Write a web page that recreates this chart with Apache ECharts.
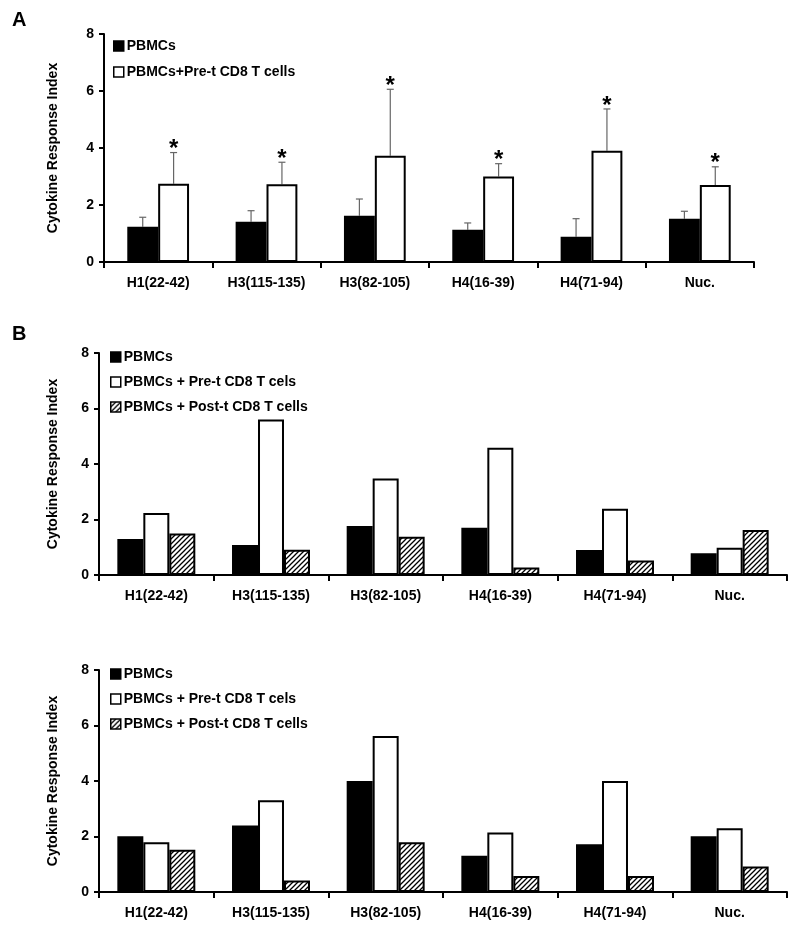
<!DOCTYPE html>
<html><head><meta charset="utf-8">
<script src="https://cdn.jsdelivr.net/npm/echarts@6/dist/echarts.min.js"></script>
<style>html,body{margin:0;padding:0;background:#fff}#c{width:800px;height:928px}</style>
</head><body><div id="c"></div>
<script>
// ---------- data ----------
const categories = ['H1(22-42)', 'H3(115-135)', 'H3(82-105)', 'H4(16-39)', 'H4(71-94)', 'Nuc.'];
const yTicks = [0, 2, 4, 6, 8];

// Panel A
const A_pbmc      = [1.24, 1.41, 1.62, 1.13, 0.89, 1.52];
const A_pbmc_err  = [0.33, 0.39, 0.59, 0.24, 0.63, 0.26];
const A_pre       = [2.75, 2.73, 3.73, 3.00, 3.90, 2.70];
const A_pre_err   = [1.09, 0.77, 2.33, 0.45, 1.47, 0.64];
const A_pre_star  = [true, true, true, true, true, true];

// Panel B (upper)
const B_pbmc = [1.30, 1.08, 1.77, 1.70, 0.90, 0.78];
const B_pre  = [2.23, 5.60, 3.48, 4.59, 2.39, 0.98];
const B_post = [1.50, 0.91, 1.38, 0.27, 0.52, 1.62];

// Panel B (lower)
const C_pbmc = [2.01, 2.40, 4.00, 1.31, 1.72, 2.01];
const C_pre  = [1.79, 3.31, 5.62, 2.14, 4.00, 2.30];
const C_post = [1.52, 0.41, 1.79, 0.58, 0.58, 0.92];

const nameA1 = 'PBMCs', nameA2 = 'PBMCs+Pre-t CD8 T cells';
const nameB1 = 'PBMCs', nameB2 = 'PBMCs + Pre-t CD8 T cels', nameB3 = 'PBMCs + Post-t CD8 T cells';

// ---------- hatch pattern ----------
function hatch() {
  const s = 5, cv = document.createElement('canvas');
  cv.width = s; cv.height = s;
  const g = cv.getContext('2d');
  g.fillStyle = '#fff'; g.fillRect(0, 0, s, s);
  g.strokeStyle = '#000'; g.lineWidth = 1.3;
  g.beginPath();
  g.moveTo(-1, s + 1); g.lineTo(s + 1, -1);
  g.moveTo(-1, 1); g.lineTo(1, -1);
  g.moveTo(s - 1, s + 1); g.lineTo(s + 1, s - 1);
  g.stroke();
  return { image: cv, repeat: 'repeat' };
}
const hatchFill = hatch();

const FONT = '"Liberation Sans", Arial, Helvetica, sans-serif';
const grids = [
  { left: 104, top: 34, width: 650, height: 228 },
  { left: 99, top: 353, width: 688, height: 222 },
  { left: 99, top: 670, width: 688, height: 222 }
];
const nameGaps = [44, 39, 39];

const xAxes = grids.map((g, i) => ({
  type: 'category', gridIndex: i, data: categories,
  axisLine: { lineStyle: { color: '#000', width: 2 } },
  axisTick: { show: true, length: 6, lineStyle: { color: '#000', width: 2 } },
  axisLabel: { color: '#000', fontWeight: 'bold', fontSize: 14, fontFamily: FONT, margin: 14 }
}));
const yAxes = grids.map((g, i) => ({
  type: 'value', gridIndex: i, min: 0, max: 8, interval: 2,
  name: 'Cytokine Response Index', nameLocation: 'middle', nameGap: nameGaps[i],
  nameTextStyle: { color: '#000', fontWeight: 'bold', fontSize: 14, fontFamily: FONT },
  axisLine: { show: true, lineStyle: { color: '#000', width: 2 } },
  axisTick: { show: true, length: 5, lineStyle: { color: '#000', width: 2 } },
  axisLabel: { color: '#000', fontWeight: 'bold', fontSize: 14, fontFamily: FONT, margin: 10,
    formatter: v => yTicks.includes(v) ? String(v) : '' },
  splitLine: { show: false }
}));

function barSeries(name, data, idx, fill, gap) {
  return {
    type: 'bar', name, data, xAxisIndex: idx, yAxisIndex: idx,
    barGap: 0, barCategoryGap: gap,
    itemStyle: { color: fill, borderColor: '#000', borderWidth: 2 },
    emphasis: { disabled: true }, z: 2
  };
}

// error bars for panel A (2 bars per category, gap 43%)
function errSeries(vals, errs, stars, side) {
  const gap = 0.43;
  return {
    type: 'custom', xAxisIndex: 0, yAxisIndex: 0, z: 1,
    data: vals.map((v, i) => [i, v, errs[i], stars ? (stars[i] ? 1 : 0) : 0]),
    renderItem: function (params, api) {
      const i = api.value(0), v = api.value(1), e = api.value(2), st = api.value(3);
      const band = api.size([1, 0])[0];
      const bw = band * (1 - gap) / 2;
      const c = api.coord([i, v]);
      const x = c[0] + side * bw / 2;
      const top = api.coord([i, v + e])[1];
      const children = [
        { type: 'line', shape: { x1: x, y1: c[1], x2: x, y2: top }, style: { stroke: '#666', lineWidth: 1.2 } },
        { type: 'line', shape: { x1: x - 3.5, y1: top, x2: x + 3.5, y2: top }, style: { stroke: '#666', lineWidth: 1.2 } }
      ];
      if (st) children.push({ type: 'text', x: x, y: top - 3,
        style: { text: '*', fontSize: 24, fontWeight: 'bold', fontFamily: FONT, fill: '#000', align: 'center', verticalAlign: 'middle' } });
      return { type: 'group', children };
    }
  };
}

const series = [
  barSeries(nameA1, A_pbmc, 0, '#000', '43%'),
  barSeries(nameA2, A_pre, 0, '#fff', '43%'),
  errSeries(A_pbmc, A_pbmc_err, null, -1),
  errSeries(A_pre, A_pre_err, A_pre_star, 1),
  barSeries(nameB1, B_pbmc, 1, '#000', '32%'),
  barSeries(nameB2, B_pre, 1, '#fff', '32%'),
  barSeries(nameB3, B_post, 1, hatchFill, '32%'),
  barSeries(nameB1, C_pbmc, 2, '#000', '32%'),
  barSeries(nameB2, C_pre, 2, '#fff', '32%'),
  barSeries(nameB3, C_post, 2, hatchFill, '32%')
];

const legendBase = {
  orient: 'vertical', icon: 'rect', itemWidth: 10, itemHeight: 10,
  selectedMode: false,
  textStyle: { color: '#000', fontWeight: 'bold', fontSize: 14, fontFamily: FONT, padding: [0, 0, 0, -2] },
  itemStyle: { borderColor: '#000', borderWidth: 1.5 }
};

const option = {
  animation: false,
  backgroundColor: '#fff',
  grid: grids,
  xAxis: xAxes,
  yAxis: yAxes,
  legend: [
    Object.assign({}, legendBase, { left: 108, top: 34, itemGap: 12, data: [nameA1, nameA2] }),
    Object.assign({}, legendBase, { left: 105, top: 345, itemGap: 11, data: [nameB1, nameB2, nameB3] }),
    Object.assign({}, legendBase, { left: 105, top: 662, itemGap: 11, data: [nameB1, nameB2, nameB3] })
  ],
  graphic: [
    { type: 'text', left: 12, top: 10, style: { text: 'A', fontSize: 20, fontWeight: 'bold', fontFamily: FONT, fill: '#000' } },
    { type: 'text', left: 12, top: 324, style: { text: 'B', fontSize: 20, fontWeight: 'bold', fontFamily: FONT, fill: '#000' } }
  ],
  series
};
const chart = echarts.init(document.getElementById('c'), null, { renderer: 'canvas' });
chart.setOption(option);
</script></body></html>
